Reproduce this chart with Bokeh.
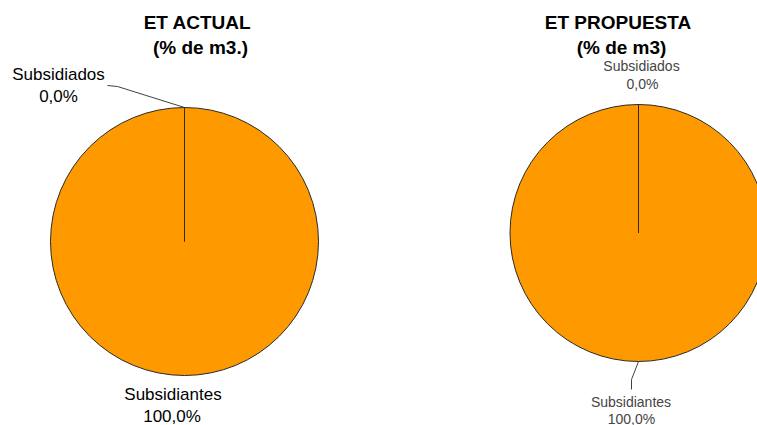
import math
from bokeh.plotting import figure
from bokeh.models import Range1d, ColumnDataSource
from bokeh.core.properties import value
from bokeh.embed import file_html
from bokeh.resources import INLINE

# ---- data ----
categories = ["Subsidiados", "Subsidiantes"]
actual = [0.0, 100.0]
propuesta = [0.0, 100.0]
title_actual = ["ET ACTUAL", "(% de m3.)"]
title_propuesta = ["ET PROPUESTA", "(% de m3)"]

PIE_COLOR = "#FF9900"
FONT = "Liberation Sans"

W, H = 757, 425
p = figure(width=W, height=H, x_range=Range1d(0, W), y_range=Range1d(0, H),
           output_backend="svg", toolbar_location=None, min_border=0,
           x_axis_location=None, y_axis_location=None)
p.grid.visible = False
p.outline_line_color = None
p.background_fill_color = "white"
p.border_fill_color = "white"


def Y(py):
    return H - py


def fmt(v):
    return ("%.1f" % v).replace(".", ",") + "%"


def angles(vals):
    total = float(sum(vals))
    starts, ends, mids = [], [], []
    cum = 0.0
    for v in vals:
        s = math.pi / 2 - 2 * math.pi * cum / total
        cum += v
        e = math.pi / 2 - 2 * math.pi * cum / total
        starts.append(s)
        ends.append(e)
        mids.append((s + e) / 2)
    return starts, ends, mids


def draw_pie(vals, cx, cy, r):
    s, e, m = angles(vals)
    order = sorted(range(len(vals)), key=lambda i: vals[i])[::-1]
    src = ColumnDataSource(dict(
        x=[cx] * len(vals), y=[Y(cy)] * len(vals),
        start=[s[i] for i in order], end=[e[i] for i in order],
        cat=[categories[i] for i in order]))
    p.wedge(x="x", y="y", radius=r, start_angle="start", end_angle="end",
            direction="clock", source=src, fill_color=PIE_COLOR,
            line_color="#2a2a2a", line_width=1)
    return m


def text(x, y, t, size, color="black", style="normal"):
    p.text(x=[x], y=[Y(y)], text=[t], text_font=value(FONT),
           text_font_size=size, text_color=color, text_font_style=style,
           text_align="center", text_baseline="middle")


def anchor(cx, cy, r, ang):
    return cx + r * math.cos(ang), cy - r * math.sin(ang)


# left pie
m1 = draw_pie(actual, 184, 241, 134)
text(197, 22, title_actual[0], "19px", style="bold")
text(200, 46.5, title_actual[1], "19px", style="bold")
text(58, 74, categories[0], "17px")
text(58, 96, fmt(actual[0]), "17px")
text(172.5, 394, categories[1], "17px")
text(171.5, 416, fmt(actual[1]), "17px")
ax, ay = anchor(184, 241, 134, m1[0])
p.line(x=[ax, 117, 107], y=[Y(ay), Y(86), Y(85)], line_color="#404040", line_width=1)

# right pie
m2 = draw_pie(propuesta, 638, 232.5, 128.5)
text(617.5, 22, title_propuesta[0], "19px", style="bold")
text(621, 46.5, title_propuesta[1], "19px", style="bold")
text(641, 65, categories[0], "14px", color="#444444")
text(642, 83, fmt(propuesta[0]), "14px", color="#444444")
text(630.5, 401, categories[1], "14px", color="#444444")
text(631, 418, fmt(propuesta[1]), "14px", color="#444444")
bx, by = anchor(638, 232.5, 128.5, m2[1])
p.line(x=[bx, 631, 631], y=[Y(by), Y(379), Y(389)], line_color="#404040", line_width=1)

open("out.html", "w").write(file_html(p, INLINE))
